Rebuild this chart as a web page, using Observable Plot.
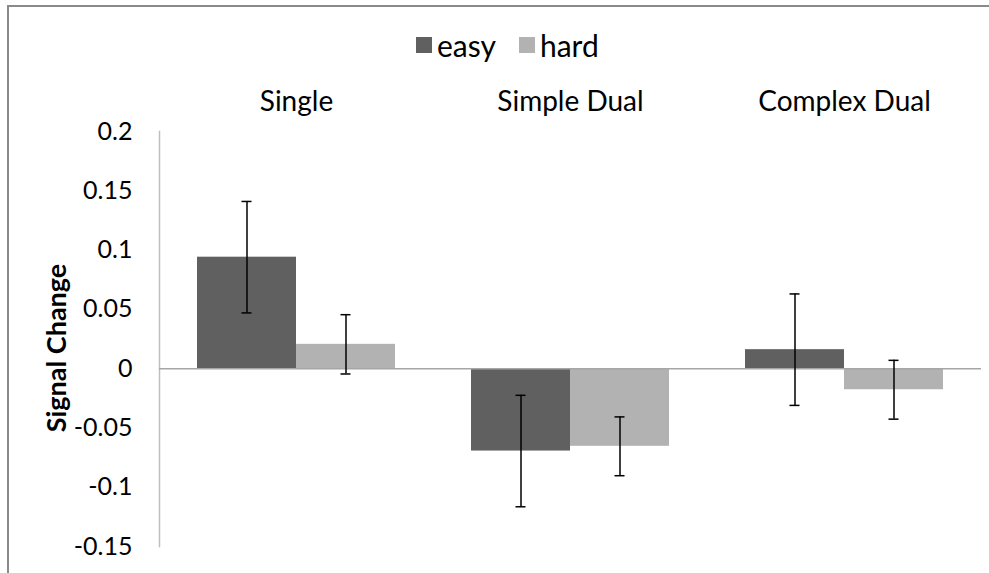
<!DOCTYPE html>
<html>
<head>
<meta charset="utf-8">
<script src="https://cdn.jsdelivr.net/npm/d3@7"></script>
<script src="https://cdn.jsdelivr.net/npm/@observablehq/plot@0.6"></script>
<style>
html, body { margin: 0; padding: 0; background: #fff; }
#wrap { position: relative; width: 989px; height: 573px; overflow: hidden; font-family: Lato, "Open Sans", sans-serif; color: #000; }
#frame { position: absolute; left: 7px; top: 5px; right: -10px; bottom: -10px; border: 2px solid #8a8a8a; }
#legend { position: absolute; top: 27px; left: 416px; display: flex; align-items: center; font-size: 30px; line-height: 36px; }
#legend .sw { width: 16px; height: 16px; display: inline-block; margin-right: 5px; }
#legend .item { display: flex; align-items: center; margin-right: 23px; }
#ylabel { position: absolute; left: 55px; top: 348px; transform: translate(-50%, -50%) rotate(-90deg); font-size: 27px; font-weight: bold; white-space: nowrap; }
#chart { position: absolute; left: 0; top: 0; }
</style>
</head>
<body>
<div id="wrap">
  <div id="frame"></div>
  <div id="chart"></div>
  <div id="legend"></div>
  <div id="ylabel">Signal Change</div>
</div>
<script>
const groups = ["Single", "Simple Dual", "Complex Dual"];
const conditions = ["easy", "hard"];
const easyMeans = [0.094, -0.0695, 0.016];
const hardMeans = [0.0205, -0.0655, -0.0178];
const easyErr = [0.047, 0.047, 0.047];
const hardErr = [0.025, 0.0248, 0.0248];
const yTicks = [-0.15, -0.1, -0.05, 0, 0.05, 0.1, 0.15, 0.2];
const colors = ["#606060", "#b2b2b2"];

const rows = [];
groups.forEach((g, i) => {
  rows.push({group: g, cond: "easy", mean: easyMeans[i], lo: easyMeans[i] - easyErr[i], hi: easyMeans[i] + easyErr[i]});
  rows.push({group: g, cond: "hard", mean: hardMeans[i], lo: hardMeans[i] - hardErr[i], hi: hardMeans[i] + hardErr[i]});
});

const legend = document.getElementById("legend");
conditions.forEach((c, i) => {
  const it = document.createElement("div");
  it.className = "item";
  const sw = document.createElement("span");
  sw.className = "sw";
  sw.style.background = colors[i];
  it.appendChild(sw);
  it.appendChild(document.createTextNode(c));
  legend.appendChild(it);
});

const fmt = d => String(+d.toFixed(2));

const chart = Plot.plot({
  width: 989,
  height: 573,
  marginTop: 131,
  marginBottom: 27,
  marginLeft: 159,
  marginRight: 8,
  style: {fontFamily: "Lato, 'Open Sans', sans-serif", color: "#000", background: "transparent", overflow: "visible"},
  fx: {domain: groups, padding: 0, label: null},
  x: {domain: conditions, paddingInner: 0, paddingOuter: 0.381, axis: null},
  y: {domain: [-0.15, 0.2]},
  color: {domain: conditions, range: colors},
  marks: [
    Plot.frame({anchor: "left", facetAnchor: "left", stroke: "#bfbfbf", strokeWidth: 1.5}),
    Plot.barY(rows, {fx: "group", x: "cond", y1: 0, y2: "mean", fill: "cond"}),
    Plot.ruleY([0], {stroke: "#a6a6a6", strokeWidth: 1.5}),
    Plot.ruleX(rows, {fx: "group", x: "cond", y1: "lo", y2: "hi", stroke: "#000", strokeWidth: 1.5}),
    Plot.tickY(rows, {fx: "group", x: "cond", y: "lo", stroke: "#000", strokeWidth: 1.5, insetLeft: 44.5, insetRight: 44.5}),
    Plot.tickY(rows, {fx: "group", x: "cond", y: "hi", stroke: "#000", strokeWidth: 1.5, insetLeft: 44.5, insetRight: 44.5}),
    Plot.axisY({ticks: yTicks, tickSize: 0, tickPadding: 27, tickFormat: fmt, fontSize: 25, label: null}),
    Plot.axisFx({anchor: "top", tickSize: 0, tickPadding: 21, fontSize: 28, label: null})
  ]
});
document.getElementById("chart").appendChild(chart);
</script>
</body>
</html>
